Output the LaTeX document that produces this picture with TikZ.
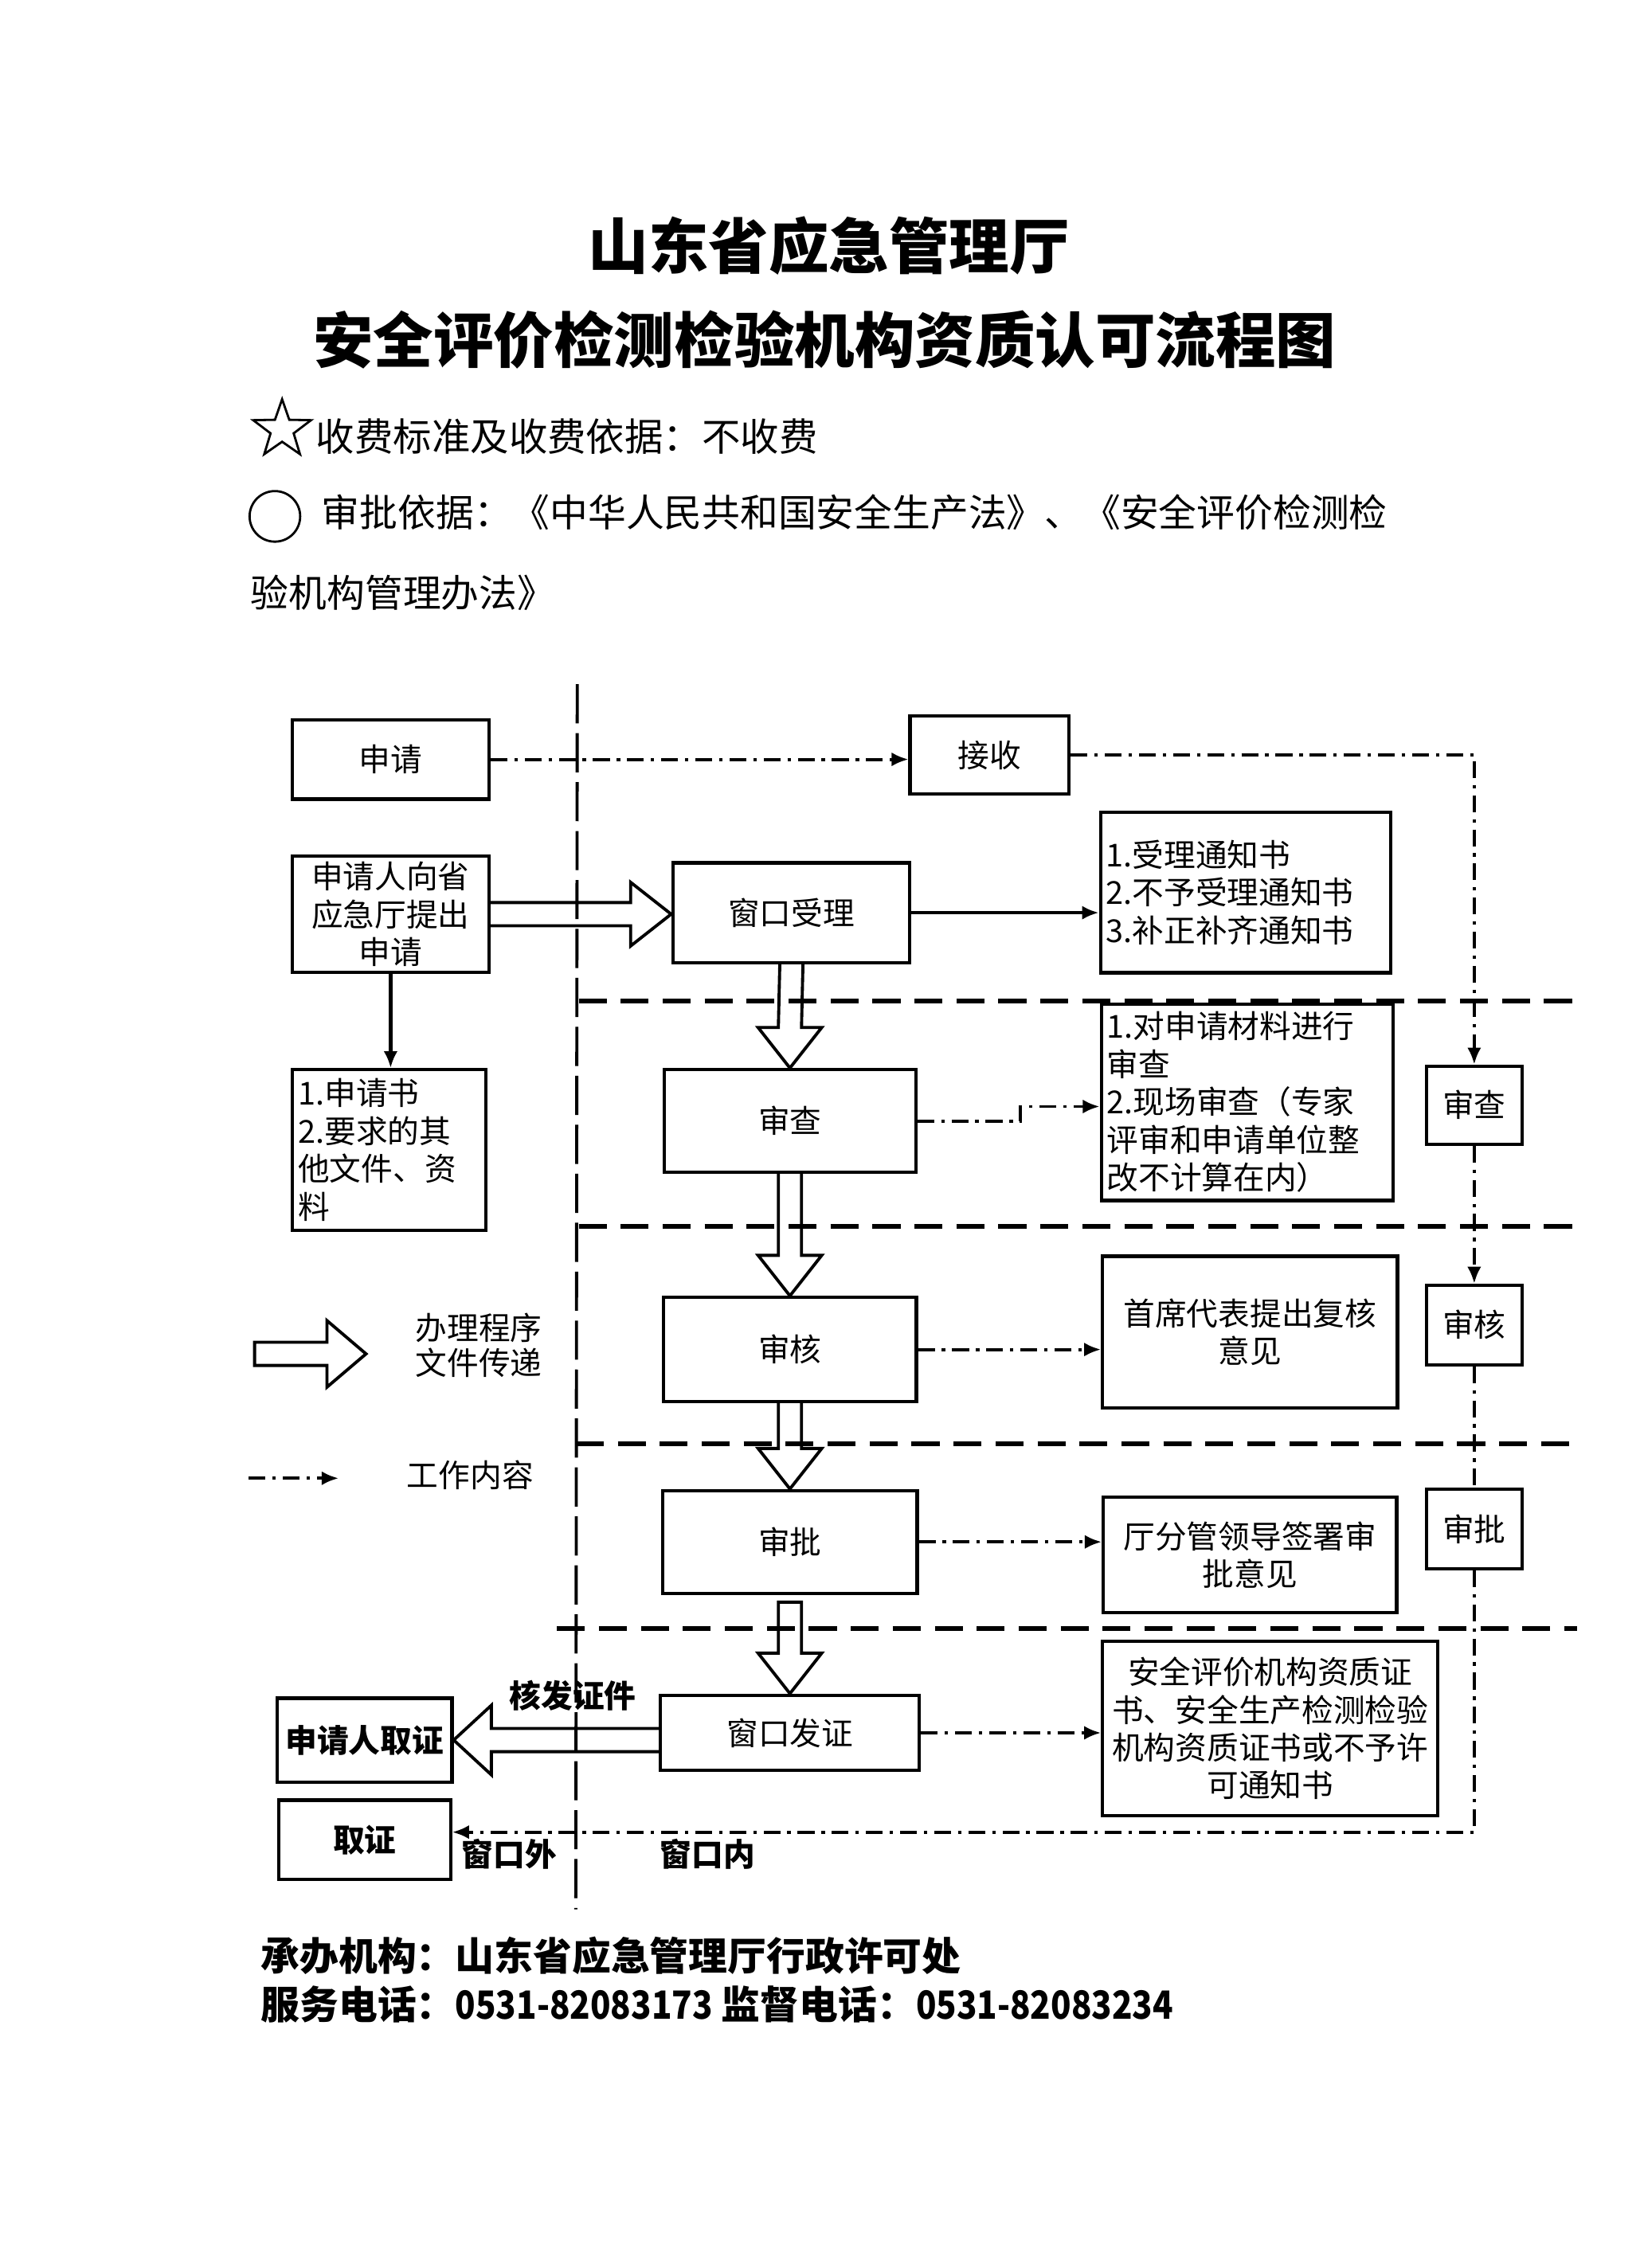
\documentclass[tikz,border=0pt]{standalone}
\usepackage{fontspec}
\setmainfont{Noto Sans CJK SC}
\newfontfamily\narrowdig[FakeStretch=0.86]{Noto Sans CJK SC}
\usetikzlibrary{arrows.meta,shapes.geometric,calc}
\def\ux{0.5166pt}
\begin{document}
\begin{tikzpicture}[x=0.01817cm,y=-0.01817cm,
  bfont/.style={font=\fontsize{11.3pt}{13.5pt}\selectfont},
  box/.style={draw, line width=1.2pt, inner sep=2pt, align=center, bfont},
  sz/.style 2 args={minimum width=#1*\ux, minimum height=#2*\ux},
  lbox/.style={box, align=left, text width=#1*\ux-6*\ux},
  tip/.style={-{Latex[length=6pt,width=5pt]}},
  dd/.style={line width=1.1pt, dash pattern=on 6pt off 2.5pt on 1.2pt off 2.5pt},
  dda/.style={dd, tip},
  solida/.style={line width=1.2pt, tip},
  harrow/.style={line width=1.1pt, line join=miter},
  vdash/.style={line width=1.1pt, dash pattern=on 14pt off 3.5pt},
  rdash/.style={line width=1.8pt, dash pattern=on 10pt off 5pt},
  lab/.style={bfont, inner sep=0pt}]
\useasboundingbox (0,0) rectangle (1136,1568);
\fill[white] (0,0) rectangle (1136,1568);

% ---------- title and header ----------
\node[font=\fontsize{21.5pt}{24pt}\selectfont\bfseries] (t1) at (573,170) {山东省应急管理厅};
\node[font=\fontsize{21.5pt}{24pt}\selectfont\bfseries] (t2) at (570,235) {安全评价检测检验机构资质认可流程图};
\node[draw, star, star points=5, star point ratio=2.5, minimum size=42*\ux, inner sep=0pt, line width=0.8pt] (star) at (195,297) {};
\node[anchor=west, inner sep=0pt, font=\fontsize{13.8pt}{16pt}\selectfont] (fee) at (218,302) {收费标准及收费依据：不收费};
\node[draw, circle, minimum size=35*\ux, inner sep=0pt, line width=0.8pt] (circ) at (190,357) {};
\node[anchor=west, inner sep=0pt, font=\fontsize{13.6pt}{16pt}\selectfont] (basis1) at (222,354) {审批依据：《中华人民共和国安全生产法》、《安全评价检测检};
\node[anchor=west, inner sep=0pt, font=\fontsize{13.6pt}{16pt}\selectfont] (basis2) at (173,410) {验机构管理办法》};

% ---------- boxes ----------
\node[box, sz={136}{55}] (shen) at (270,525) {申请};
\node[box, sz={110}{54}] (jieshou) at (684,522) {接收};
\node[box, sz={136}{79}] (tichu) at (270,632) {申请人向省\\应急厅提出\\申请};
\node[box, sz={164}{69}] (shouli) at (547,631) {窗口受理};
\node[lbox=199, sz={199}{111}] (list1) at (861,617) {1.受理通知书\\2.不予受理通知书\\3.补正补齐通知书};
\node[lbox=132, sz={132}{111}] (shuq) at (269,795) {1.申请书\\2.要求的其\\他文件、资\\料};
\node[box, sz={174}{71}] (shencha) at (546,775) {审查};
\node[lbox=200, sz={200}{136}] (list2) at (862,762) {1.对申请材料进行\\审查\\2.现场审查（专家\\评审和申请单位整\\改不计算在内）};
\node[box, sz={66}{54}] (shenchaR) at (1019,764) {审查};
\node[box, sz={175}{72}] (shenhe) at (546,933) {审核};
\node[box, sz={204}{105}] (shouxi) at (864,921) {首席代表提出复核\\意见};
\node[box, sz={66}{55}] (shenheR) at (1019,916) {审核};
\node[box, sz={176}{71}] (shenpi) at (546,1066) {审批};
\node[box, sz={203}{80}] (ting) at (864,1075) {厅分管领导签署审\\批意见};
\node[box, sz={66}{55}] (shenpiR) at (1019,1057) {审批};
\node[box, sz={179}{52}] (fazheng) at (546,1198) {窗口发证};
\node[box, sz={232}{121}] (anquan) at (878,1195) {安全评价机构资质证\\书、安全生产检测检验\\机构资质证书或不予许\\可通知书};
\node[box, sz={121}{58}, font=\fontsize{11.3pt}{13.5pt}\selectfont\bfseries] (qz1) at (252,1203) {申请人取证};
\node[box, sz={119}{55}, font=\fontsize{11.3pt}{13.5pt}\selectfont\bfseries] (qz2) at (252,1272) {取证};

% ---------- window divider and region lines ----------
\coordinate (vtop) at (399,473);
\coordinate (vbot) at (398,1320);
\draw[vdash] (vtop) -- (vbot);
\coordinate (r1a) at (400,692); \coordinate (r1b) at (1090,692);
\coordinate (r2a) at (400,848); \coordinate (r2b) at (1090,848);
\coordinate (r3a) at (398,998); \coordinate (r3b) at (1090,998);
\coordinate (r4a) at (385,1126); \coordinate (r4b) at (1090,1126);
\draw[rdash] (r1a) -- (r1b);
\draw[rdash] (r2a) -- (r2b);
\draw[rdash] (r3a) -- (r3b);
\draw[rdash] (r4a) -- (r4b);

% ---------- connectors ----------
\draw[dda] (shen.east) -- (shen.east -| jieshou.west);
\draw[solida] (shouli.east) -- (shouli.east -| list1.west);
\draw[solida] (tichu.south) -- (tichu.south |- shuq.north);
\coordinate (j1) at ($(shencha.east)+(71,0)$);
\coordinate (j2) at ($(j1)+(0,-10)$);
\draw[dda] (shencha.east) -- (j1) -- (j2) -- (j2 -| list2.west);
\draw[dda] (shenhe.east) -- (shenhe.east -| shouxi.west);
\draw[dda] (shenpi.east) -- (shenpi.east -| ting.west);
\draw[dda] (fazheng.east) -- (fazheng.east -| anquan.west);

% right-hand dash-dot chain
\draw[dda] (jieshou.east) -- (jieshou.east -| shenchaR.north) -- (shenchaR.north);
\draw[dda] (shenchaR.south) -- (shenheR.north);
\draw[dd] (shenheR.south) -- (shenpiR.north);
\coordinate (turn) at ($(shenpiR.south)+(0,181)$);
\draw[dda] (shenpiR.south) -- (turn) -- (turn -| qz2.east);

% hollow block arrows (process flow)
\coordinate (h1) at (shouli.west |- tichu.east);
\draw[harrow] ($(tichu.east)+(0,-8)$) -- ($(h1)+(-28,-8)$) -- ($(h1)+(-28,-22)$) -- (h1) -- ($(h1)+(-28,22)$) -- ($(h1)+(-28,8)$) -- ($(tichu.east)+(0,8)$);
\draw[harrow] ($(shouli.south)+(-8,0)$) -- ($(shencha.north)+(-8,-28)$) -- ($(shencha.north)+(-22,-28)$) -- (shencha.north) -- ($(shencha.north)+(22,-28)$) -- ($(shencha.north)+(8,-28)$) -- ($(shouli.south)+(8,0)$);
\draw[harrow] ($(shencha.south)+(-8,0)$) -- ($(shenhe.north)+(-8,-28)$) -- ($(shenhe.north)+(-22,-28)$) -- (shenhe.north) -- ($(shenhe.north)+(22,-28)$) -- ($(shenhe.north)+(8,-28)$) -- ($(shencha.south)+(8,0)$);
\draw[harrow] ($(shenhe.south)+(-8,0)$) -- ($(shenpi.north)+(-8,-28)$) -- ($(shenpi.north)+(-22,-28)$) -- (shenpi.north) -- ($(shenpi.north)+(22,-28)$) -- ($(shenpi.north)+(8,-28)$) -- ($(shenhe.south)+(8,0)$);
\draw[harrow] ($(shenpi.south)+(-8,5)$) -- ($(fazheng.north)+(-8,-28)$) -- ($(fazheng.north)+(-22,-28)$) -- (fazheng.north) -- ($(fazheng.north)+(22,-28)$) -- ($(fazheng.north)+(8,-28)$) -- ($(shenpi.south)+(8,5)$) -- cycle;
\coordinate (h2) at (fazheng.west |- qz1.east);
\draw[harrow] ($(h2)+(0,-8)$) -- ($(qz1.east)+(26,-8)$) -- ($(qz1.east)+(26,-24)$) -- (qz1.east) -- ($(qz1.east)+(26,24)$) -- ($(qz1.east)+(26,8)$) -- ($(h2)+(0,8)$);

% ---------- labels ----------
\node[lab, font=\fontsize{11.3pt}{13.5pt}\selectfont\bfseries] (hefa) at (396,1172) {核发证件};
\node[lab, font=\fontsize{11.3pt}{13.5pt}\selectfont\bfseries] (wai) at (352,1282) {窗口外};
\node[lab, font=\fontsize{11.3pt}{13.5pt}\selectfont\bfseries] (nei) at (489,1282) {窗口内};

% ---------- legend ----------
\coordinate (lg) at (176,936);
\draw[harrow] ($(lg)+(0,-8)$) -- ($(lg)+(50,-8)$) -- ($(lg)+(50,-23)$) -- ($(lg)+(77,0)$) -- ($(lg)+(50,23)$) -- ($(lg)+(50,8)$) -- ($(lg)+(0,8)$) -- cycle;
\node[lab, align=center, font=\fontsize{11.3pt}{12.5pt}\selectfont] (leg1) at (331,930) {办理程序\\文件传递};
\coordinate (la) at (172,1022);
\coordinate (lb) at (234,1022);
\draw[dda] (la) -- (lb);
\node[lab] (leg2) at (325,1020) {工作内容};

% ---------- footer ----------
\node[anchor=west, inner sep=0pt, font=\fontsize{13.9pt}{16pt}\selectfont\bfseries] (f1) at (180,1352) {承办机构：山东省应急管理厅行政许可处};
\node[anchor=west, inner sep=0pt, font=\fontsize{13.9pt}{16pt}\selectfont\bfseries] (f2) at (180,1386) {服务电话：{\narrowdig 0531-82083173} 监督电话：{\narrowdig 0531-82083234}};
\end{tikzpicture}
\end{document}
